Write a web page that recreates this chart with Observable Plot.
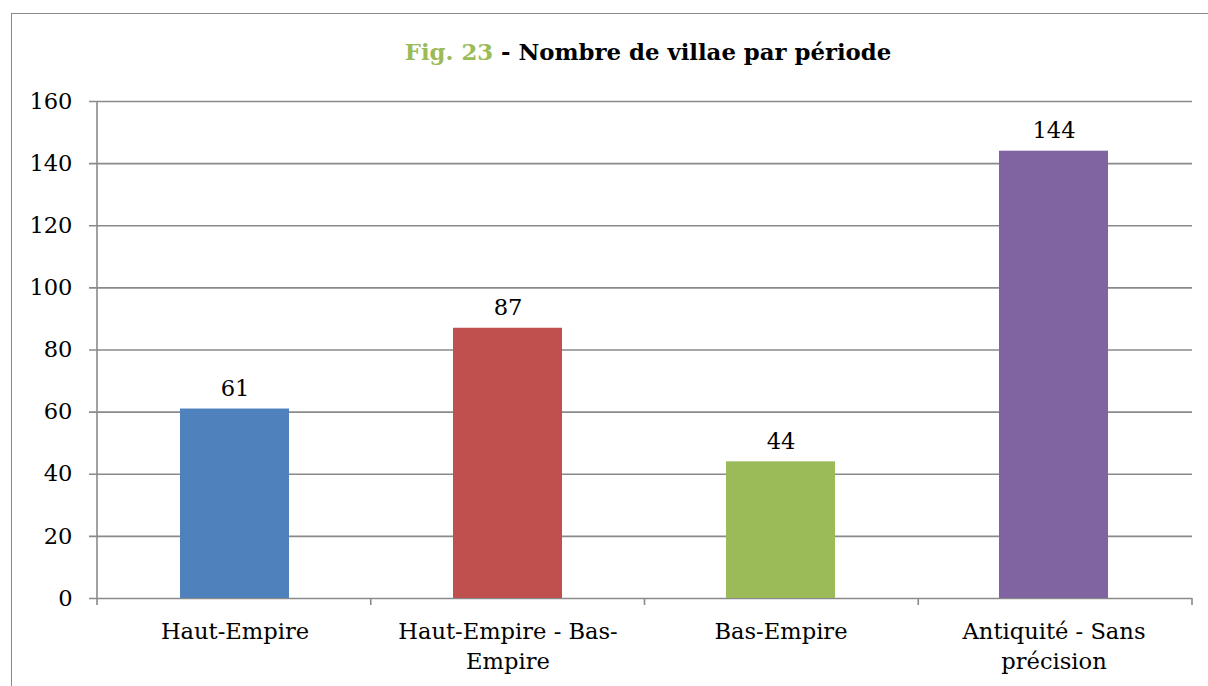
<!DOCTYPE html>
<html><head><meta charset="utf-8">
<script src="https://cdn.jsdelivr.net/npm/d3@7"></script>
<script src="https://cdn.jsdelivr.net/npm/@observablehq/plot@0.6"></script>
<style>
html,body{margin:0;padding:0;background:#fff;}
#wrap{position:relative;width:1208px;height:686px;overflow:hidden;font-family:"DejaVu Serif",serif;}
#frame{position:absolute;left:11px;top:13px;width:1400px;height:900px;border:1px solid #8a8a8a;box-sizing:border-box;}
#title{position:absolute;left:648px;top:41px;transform:translateX(-50%);white-space:nowrap;font-weight:bold;font-size:22.8px;line-height:1;color:#000;}
#title .fig{color:#9BBB59;}
#chart{position:absolute;left:0;top:0;}
</style>
</head><body>
<div id="wrap">
  <div id="frame"></div>
  <div id="chart"></div>
  <div id="title"><span class="fig">Fig. 23</span> - Nombre de villae par période</div>
</div>
<script>
const categories = ["Haut-Empire", "Haut-Empire - Bas-Empire", "Bas-Empire", "Antiquité - Sans précision"];
const tickLabels = ["Haut-Empire", "Haut-Empire - Bas-\nEmpire", "Bas-Empire", "Antiquité - Sans\nprécision"];
const values = [61, 87, 44, 144];
const colors = ["#4F81BD", "#C0504D", "#9BBB59", "#8064A2"];
const yTicks = [0, 20, 40, 60, 80, 100, 120, 140, 160];

const data = categories.map((c, i) => ({cat: c, value: values[i], label: tickLabels[i]}));
const grid = "#8a8a8a";
const font = "DejaVu Serif";
const fs = 22.6;

// Category boundary ticks and left axis line, computed from the plot dimensions
function boundaries(index, scales, values, dimensions) {
  const {width, height, marginLeft, marginRight, marginBottom, marginTop} = dimensions;
  const n = categories.length;
  const step = (width - marginLeft - marginRight) / n;
  const y0 = height - marginBottom;
  const g = d3.create("svg:g").attr("stroke", grid).attr("stroke-width", 1.6);
  g.append("line").attr("x1", marginLeft).attr("x2", marginLeft).attr("y1", marginTop).attr("y2", y0);
  for (let i = 0; i <= n; i++) {
    const x = marginLeft + i * step;
    g.append("line").attr("x1", x).attr("x2", x).attr("y1", y0).attr("y2", y0 + 7);
  }
  return g.node();
}

const plot = Plot.plot({
  width: 1208,
  height: 686,
  marginTop: 101,
  marginBottom: 88,
  marginLeft: 97,
  marginRight: 16,
  style: {fontFamily: font, fontSize: fs + "px", color: "#000", background: "transparent", overflow: "visible"},
  x: {domain: categories, paddingInner: 0.6, paddingOuter: 0.3, axis: null},
  y: {domain: [0, 160], axis: null},
  color: {domain: categories, range: colors},
  marks: [
    Plot.ruleY(yTicks, {y: d => d, stroke: grid, strokeWidth: 1.6, insetLeft: -8}),
    Plot.barY(data, {x: "cat", y: "value", fill: "cat"}),
    Plot.text(data, {x: "cat", y: "value", text: d => String(d.value), lineAnchor: "bottom", dy: -13, fontSize: fs, fill: "#000"}),
    Plot.text(yTicks, {y: d => d, text: d => String(d), frameAnchor: "left", textAnchor: "end", dx: -25, fontSize: fs, fill: "#000"}),
    Plot.text(data, {x: "cat", text: "label", frameAnchor: "bottom", lineAnchor: "top", dy: 19, lineHeight: 1.32, fontSize: fs, fill: "#000"}),
    boundaries
  ]
});
document.getElementById("chart").appendChild(plot);
</script>
</body></html>
